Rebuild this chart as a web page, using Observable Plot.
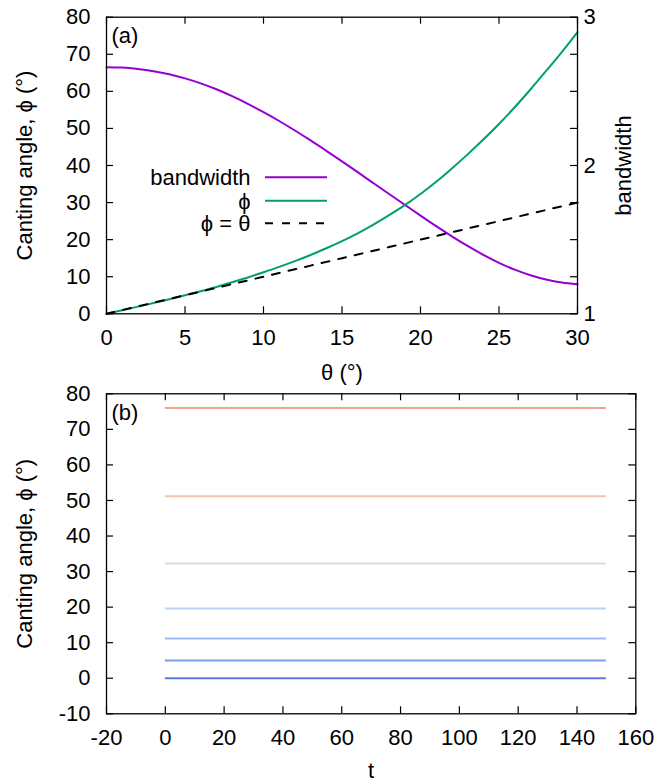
<!DOCTYPE html>
<html><head><meta charset="utf-8">
<script src="https://cdn.jsdelivr.net/npm/d3@7"></script>
<script src="https://cdn.jsdelivr.net/npm/@observablehq/plot@0.6"></script>
<style>
body{margin:0;background:#fff;}
#chart{width:666px;}
#chart svg{display:block;overflow:visible;}
</style>
</head><body><div id="chart"></div>
<script>
// ---------- data: panel (a) ----------
const theta = [0,1,2,3,4,5,6,7,8,9,10,11,12,13,14,15,16,17,18,19,20,21,22,23,24,25,26,27,28,29,30];
const phi = [0,0.95,1.93,2.93,3.95,5.0,6.1,7.25,8.49,9.81,11.2,12.65,14.2,15.87,17.67,19.6,21.7,24.05,26.6,29.3,32.3,35.6,39.2,43.0,47.0,51.2,55.7,60.5,65.5,70.6,76.0];
const bandwidth = [2.6625,2.660,2.651,2.636,2.615,2.5875,2.554,2.514,2.4675,2.416,2.360,2.300,2.236,2.169,2.099,2.0275,1.955,1.881,1.8075,1.735,1.6625,1.591,1.5225,1.4575,1.3975,1.344,1.2975,1.260,1.231,1.211,1.200];
const seriesNames = ["bandwidth", "\u03d5", "\u03d5 = \u03b8"];
const xTicksA = [0,5,10,15,20,25,30];
const yTicksA = [0,10,20,30,40,50,60,70,80];
const bwLabels = [1,2,3];
const bwTicks = [1,1.25,1.5,1.75,2,2.25,2.5,2.75,3];

// ---------- data: panel (b) ----------
const tStart = 0, tEnd = 150;
const phiSteady = [0, 5.0, 11.2, 19.6, 32.3, 51.2, 76.0];
const lineColors = ["#5a7be0", "#7b9ef0", "#9dbbf8", "#bfd3f6", "#dcdcdc", "#f5c4ae", "#f3a489"];
const xTicksB = [-20,0,20,40,60,80,100,120,140,160];
const yTicksB = [-10,0,10,20,30,40,50,60,70,80];

// ---------- layout ----------
const FONT = "'Liberation Sans', Arial, Helvetica, sans-serif";
const FS = 22, TICK = 7;
const style = {fontFamily: FONT, fontSize: FS + "px", color: "black", background: "white"};
const fmt = d => String(d); // plain hyphen-minus like the reference

// bandwidth (1..3) drawn on the left (0..80) scale
const bwToY = b => (b - 1) * 40;
const yToBw = y => 1 + y / 40;

// panel (a)
const A = {W: 666, H: 380, mT: 16.7, mB: 66.7, mL: 106, mR: 89};
const aw = A.W - A.mL - A.mR, ah = A.H - A.mT - A.mB;
const xA = px => px / aw * 30;
const yA = py => 80 - py / ah * 80;
const legend = {textDx: 144, lineX1: 159, lineX2: 221, rows: [160, 183.5, 206]};
const legendStyles = [
  {stroke: "#9400d3"},
  {stroke: "#009e73"},
  {stroke: "black", strokeDasharray: "8,9"}
];
const yLabel = "Canting angle, \u03d5 (\u00b0)";

const plotA = Plot.plot({
  width: A.W, height: A.H,
  marginTop: A.mT, marginBottom: A.mB, marginLeft: A.mL, marginRight: A.mR,
  style,
  x: {domain: [0, 30]},
  y: {domain: [0, 80]},
  marks: [
    Plot.tickX(xTicksA, {x: d => d, insetTop: ah - TICK, stroke: "black", strokeWidth: 1.2}),
    Plot.tickX(xTicksA, {x: d => d, insetBottom: ah - TICK, stroke: "black", strokeWidth: 1.2}),
    Plot.tickY(yTicksA, {y: d => d, insetRight: aw - TICK, stroke: "black", strokeWidth: 1.2}),
    Plot.tickY(bwTicks, {y: d => bwToY(d), insetLeft: aw - TICK, stroke: "black", strokeWidth: 1.2}),
    Plot.axisX(xTicksA, {tickSize: 0, tickPadding: 16, label: null, tickFormat: fmt}),
    Plot.axisY(yTicksA, {tickSize: 0, tickPadding: 16, label: null, tickFormat: fmt}),
    Plot.axisY(bwLabels.map(bwToY), {anchor: "right", tickSize: 0, tickPadding: 6, label: null, tickFormat: d => String(yToBw(d))}),
    Plot.line(theta, {x: d => d, y: (d, i) => bwToY(bandwidth[i]), stroke: "#9400d3", strokeWidth: 2, curve: "monotone-x"}),
    Plot.line(theta, {x: d => d, y: (d, i) => phi[i], stroke: "#009e73", strokeWidth: 2, curve: "monotone-x"}),
    Plot.line(theta, {x: d => d, y: d => d, stroke: "black", strokeWidth: 2, strokeDasharray: "8,9"}),
    // legend
    ...seriesNames.flatMap((name, i) => [
      Plot.text([name], {text: d => d, frameAnchor: "top-left", dx: legend.textDx, dy: legend.rows[i] + 1, textAnchor: "end", lineAnchor: "middle", fill: "black"}),
      Plot.ruleY([yA(legend.rows[i])], {y: d => d, x1: xA(legend.lineX1), x2: xA(legend.lineX2), strokeWidth: 2, ...legendStyles[i]})
    ]),
    Plot.text(["(a)"], {text: d => d, frameAnchor: "top-left", dx: 5, dy: 18.5, textAnchor: "start", lineAnchor: "middle", fill: "black"}),
    Plot.text(["\u03b8 (\u00b0)"], {text: d => d, frameAnchor: "bottom", dy: 59, textAnchor: "middle", lineAnchor: "middle", fill: "black"}),
    Plot.text([yLabel], {text: d => d, frameAnchor: "left", dx: -82, rotate: -90, textAnchor: "middle", lineAnchor: "middle", fill: "black"}),
    Plot.text(["bandwidth"], {text: d => d, frameAnchor: "right", dx: 46, rotate: -90, textAnchor: "middle", lineAnchor: "middle", fill: "black"}),
    Plot.frame({stroke: "black", strokeWidth: 1.3})
  ]
});

// panel (b)
const B = {W: 666, H: 401, mT: 13.3, mB: 67.7, mL: 106, mR: 30.7};
const bw_ = B.W - B.mL - B.mR, bh = B.H - B.mT - B.mB;

const plotB = Plot.plot({
  width: B.W, height: B.H,
  marginTop: B.mT, marginBottom: B.mB, marginLeft: B.mL, marginRight: B.mR,
  style,
  x: {domain: [-20, 160]},
  y: {domain: [-10, 80]},
  color: {type: "identity"},
  marks: [
    Plot.tickX(xTicksB, {x: d => d, insetTop: bh - TICK, stroke: "black", strokeWidth: 1.2}),
    Plot.tickX(xTicksB, {x: d => d, insetBottom: bh - TICK, stroke: "black", strokeWidth: 1.2}),
    Plot.tickY(yTicksB, {y: d => d, insetRight: bw_ - TICK, stroke: "black", strokeWidth: 1.2}),
    Plot.tickY(yTicksB, {y: d => d, insetLeft: bw_ - TICK, stroke: "black", strokeWidth: 1.2}),
    Plot.axisX(xTicksB, {tickSize: 0, tickPadding: 16, label: null, tickFormat: fmt}),
    Plot.axisY(yTicksB, {tickSize: 0, tickPadding: 16, label: null, tickFormat: fmt}),
    Plot.ruleY(phiSteady, {y: d => d, x1: tStart, x2: tEnd, stroke: (d, i) => lineColors[i], strokeWidth: 2}),
    Plot.text(["(b)"], {text: d => d, frameAnchor: "top-left", dx: 5, dy: 19.3, textAnchor: "start", lineAnchor: "middle", fill: "black"}),
    Plot.text(["t"], {text: d => d, frameAnchor: "bottom", dy: 57, textAnchor: "middle", lineAnchor: "middle", fill: "black"}),
    Plot.text([yLabel], {text: d => d, frameAnchor: "left", dx: -82, rotate: -90, textAnchor: "middle", lineAnchor: "middle", fill: "black"}),
    Plot.frame({stroke: "black", strokeWidth: 1.3})
  ]
});

const chart = document.getElementById("chart");
chart.appendChild(plotA);
chart.appendChild(plotB);
</script>
</body></html>
